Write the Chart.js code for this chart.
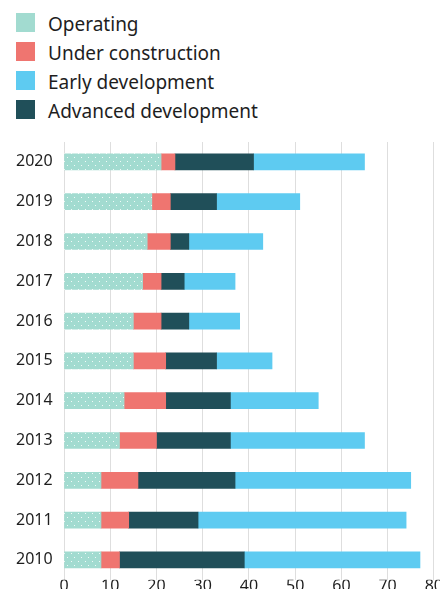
<!DOCTYPE html>
<html>
<head>
<meta charset="utf-8">
<script src="https://cdn.jsdelivr.net/npm/chart.js@4"></script>
<style>
    html, body { margin: 0; padding: 0; background: #fff; overflow: hidden; width: 441px; height: 589px; }
    #legend { position: absolute; left: 16px; top: 13px; font-family: 'Noto Sans', sans-serif; font-size: 19px; color: #1e1e1e; }
    .item { height: 29px; display: flex; align-items: flex-start; }
    .box { width: 19px; height: 19px; margin-right: 13px; flex: none; }
    .item span { line-height: 19px; padding-top: 2px; }
    #chart { position: absolute; left: 0; top: 0; }
</style>
</head>
<body>
<div id="legend"></div>
<canvas id="chart" width="440" height="593"></canvas>
<script>
// Data, top bar first
const years = ['2020', '2019', '2018', '2017', '2016', '2015', '2014', '2013', '2012', '2011', '2010'];
const operating = [21, 19, 18, 17, 15, 15, 13, 12, 8, 8, 8];
const underConstruction = [3, 4, 5, 4, 6, 7, 9, 8, 8, 6, 4];
const advancedDev = [17, 10, 4, 5, 6, 11, 14, 16, 21, 15, 27];
const earlyDev = [24, 18, 16, 11, 11, 12, 19, 29, 38, 45, 38];
const xTicks = [0, 10, 20, 30, 40, 50, 60, 70, 80];

const legendOrder = ['Operating', 'Under construction', 'Early development', 'Advanced development'];

// dotted fill for the operating bars
function dotPattern(base) {
    const tile = document.createElement('canvas');
    tile.width = 7;
    tile.height = 8;
    const t = tile.getContext('2d');
    t.fillStyle = base;
    t.fillRect(0, 0, 7, 8);
    t.fillStyle = 'rgba(255,255,255,0.85)';
    t.fillRect(1, 1, 1, 1);
    t.fillRect(4, 5, 1, 1);
    return t.createPattern(tile, 'repeat');
}

const ctx = document.getElementById('chart').getContext('2d');

const datasets = [
    { label: 'Operating', data: operating, backgroundColor: dotPattern('#a2dbd0'), legendColor: '#a2dbd0' },
    { label: 'Under construction', data: underConstruction, backgroundColor: '#ef7570' },
    { label: 'Advanced development', data: advancedDev, backgroundColor: '#204f59' },
    { label: 'Early development', data: earlyDev, backgroundColor: '#5ecbf1' }
];

// html legend, in the picture's order
const legendEl = document.getElementById('legend');
legendOrder.forEach(name => {
    const ds = datasets.find(d => d.label === name);
    const row = document.createElement('div');
    row.className = 'item';
    const box = document.createElement('div');
    box.className = 'box';
    box.style.background = ds.legendColor || ds.backgroundColor;
    const txt = document.createElement('span');
    txt.textContent = name;
    row.appendChild(box);
    row.appendChild(txt);
    legendEl.appendChild(row);
});

const chart = new Chart(ctx, {
    type: 'bar',
    data: {
        labels: years,
        datasets: datasets.map(d => ({
            label: d.label,
            data: d.data,
            backgroundColor: d.backgroundColor,
            barThickness: 16,
            borderWidth: 0
        }))
    },
    options: {
        indexAxis: 'y',
        responsive: false,
        animation: false,
        layout: { padding: { top: 142, left: 16, right: 0, bottom: 0 } },
        plugins: {
            legend: { display: false },
            tooltip: { enabled: false }
        },
        scales: {
            x: {
                stacked: true,
                min: 0,
                max: 80,
                afterBuildTicks: scale => { scale.ticks = xTicks.map(v => ({ value: v })); },
                grid: { color: '#dedede', lineWidth: 1, drawTicks: false },
                border: { display: false },
                ticks: {
                    color: '#1e1e1e',
                    padding: -3,
                    maxRotation: 0,
                    autoSkip: false,
                    font: { family: 'Noto Sans', size: 16 }
                }
            },
            y: {
                stacked: true,
                grid: { display: false },
                border: { display: false },
                afterFit: scale => { scale.width = 48; },
                ticks: {
                    crossAlign: 'far',
                    color: '#1e1e1e',
                    padding: 0,
                    font: { family: 'Noto Sans', size: 16 }
                }
            }
        }
    }
});
</script>
</body>
</html>
